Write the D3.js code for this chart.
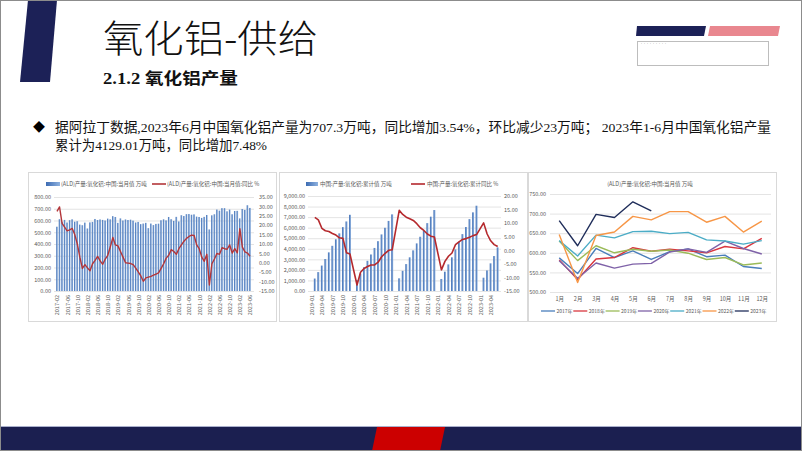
<!DOCTYPE html>
<html><head><meta charset="utf-8">
<script src="https://cdn.jsdelivr.net/npm/d3@7/dist/d3.min.js"></script>
<style>html,body{margin:0;padding:0;background:#fff;}svg{display:block;}</style>
</head><body>
<svg id="slide" width="802" height="451"></svg>
<script>
// ---------------- data ----------------
const monthLabels3 = ["1月","2月","3月","4月","5月","6月","7月","8月","9月","10月","11月","12月"];
const years3 = ["2017年","2018年","2019年","2020年","2021年","2022年","2023年"];
// monthly production (万吨)
const prod2017 = [587,547,611,588,605,583,603,610,590,594,565,560];
const prod2018 = [582,532,584,588,613,604,609,605,600,616,610,637];
const prod2019 = [630,580,618,600,609,604,607,599,583,588,569,574];
const prod2020 = [580,535,574,561,571,573,602,610,601,630,611,597];
const prod2021 = [631,592,645,638,654,655,649,652,633,630,622,631];
const prod2022 = [647,524,644,653,693,684,705,705,678,693,653,681];
const prod2023 = [682,618,698,690,730,707];
// monthly YoY % (chart 1), 2017-02 .. 2023-06
const yoy2017 = [27.4,29.7,21,19,17,17.5,18.3,15,10,3,-3];
const yoy2018 = [-1,-2.7,-4.2,-0.5,1.3,3.4,1,-0.8,2,4,8.5,13.5];
const yoy2019 = [9.5,9,6,3,0,-0.2,-0.4,-1,-2.8,-4.8,-7,-9.8];
const yoy2020 = [-8,-7.6,-7.2,-6.6,-6,-5.4,-3,-0.5,2.5,4,7,6];
const yoy2021 = [4.5,7.5,9.5,11.5,13,14,14.7,14.5,9.5,7.5,3,0.8];
const yoy2022 = [4.5,-11.8,-0.5,2,5,4.5,8,7.5,7.2,9.5,5.2,7.5];
const yoy2023 = [5.3,18.2,8.3,5.8,5.2,3.5];
// cumulative production (万吨), Jan not published
const cum2019 = [null,1180,1790,2410,3030,3660,4280,4900,5460,6050,6590,7220];
const cum2020 = [null,1040,1650,2250,2860,3460,4080,4720,5360,5990,6640,7260];
const cum2021 = [null,1200,1910,2550,3190,3850,4510,5140,5720,6430,7040,7670];
const cum2022 = [null,1140,1830,2520,3190,3940,4670,5390,6060,6810,7450,8080];
const cum2023 = [null,1260,1950,2620,3310,4130];
// cumulative YoY %
const cumYoy2019 = [null,12.1,11.2,8.1,7.2,6.9,6.2,5.6,4.6,4.4,-0.9,-1.4];
const cumYoy2020 = [null,-12.8,-8.1,-6.7,-6,-5.4,-5.4,-4.4,-2.4,-1.1,0,0.2];
const cumYoy2021 = [null,14.7,13.2,12.2,11.6,11,9.8,8.3,7.3,6,5.2,4.9];
const cumYoy2022 = [null,-7.2,-4.1,-2.2,-1,2.1,3.1,4,4.3,4.8,5.4,5.8];
const cumYoy2023 = [null,10.1,6,3.5,2.1,1.4];
// tick values
const leftTicks1 = [0,100,200,300,400,500,600,700,800];
const rightTicks1 = [-15,-10,-5,0,5,10,15,20,25,30,35];
const leftTicks2 = [0,1000,2000,3000,4000,5000,6000,7000,8000,9000];
const rightTicks2 = [-15,-10,-5,0,5,10,15,20];
const ticks3 = [500,550,600,650,700,750];
const colors3 = ["#4a7ebb","#d9363e","#9bbb59","#7f62a8","#4bacc6","#f79646","#1f2d5a"];

// ---------------- setup ----------------
const svg = d3.select("#slide");
const FONT = '"Noto Sans CJK SC","Noto Sans",sans-serif';
const BODY = '"Liberation Serif","Noto Sans CJK SC",serif';
const GRID = "#d9d9d9", TXT = "#595959";
const fmt = v => d3.format(",.2f")(v).replace("−","-");

const defs = svg.append("defs");
const gr = defs.append("linearGradient").attr("id","barGrad").attr("x1","0").attr("x2","1").attr("y1","0").attr("y2","0");
gr.append("stop").attr("offset","0%").attr("stop-color","#3d6cb3");
gr.append("stop").attr("offset","100%").attr("stop-color","#8fb2df");

svg.append("rect").attr("width",802).attr("height",451).attr("fill","#fff");

// ---------------- slide decoration ----------------
svg.append("path").attr("d","M28,0 L57,0 L50,82 L20,82 Z").attr("fill","#1c2157");
svg.append("path").attr("d","M637,26 L706,26 L704,36 L636,36 Z").attr("fill","#1c2157");
svg.append("path").attr("d","M710,26 L780,26 L778,36 L708,36 Z").attr("fill","#e9878f");
svg.append("rect").attr("x",637.5).attr("y",41.5).attr("width",131).attr("height",24).attr("fill","#fff").attr("stroke","#bdbdbd").attr("stroke-width",1);
svg.append("text").attr("x",640).attr("y",44.5).attr("font-size",3).attr("fill","#888").attr("font-family",FONT).text("·········");
svg.append("rect").attr("x",0).attr("y",426).attr("width",802).attr("height",25).attr("fill","#1b1f50");
svg.append("line").attr("x1",0).attr("x2",802).attr("y1",426.5).attr("y2",426.5).attr("stroke","#aab0cc").attr("stroke-width",1);
svg.append("path").attr("d","M377,427 L445,427 L440,451 L372,451 Z").attr("fill","#cc0000");
svg.append("rect").attr("x",0.5).attr("y",0.5).attr("width",801).attr("height",450).attr("fill","none").attr("stroke","#8c8c8c").attr("stroke-width",1);

// titles
svg.append("text").attr("x",103).attr("y",52).attr("font-size",38).attr("font-family",FONT).attr("font-weight",300)
  .attr("fill","#111").attr("textLength",215).attr("lengthAdjust","spacingAndGlyphs").text("氧化铝-供给");
svg.append("text").attr("x",103).attr("y",84).attr("font-size",16).attr("font-family",BODY).attr("font-weight",700)
  .attr("fill","#111").attr("textLength",135).attr("lengthAdjust","spacingAndGlyphs").text("2.1.2 氧化铝产量");
svg.append("text").attr("x",33).attr("y",132).attr("font-size",12).attr("font-family",FONT).attr("fill","#000").text("◆");
svg.append("text").attr("x",55).attr("y",132).attr("font-size",13.5).attr("font-family",BODY).attr("fill","#111")
  .attr("textLength",716).attr("lengthAdjust","spacingAndGlyphs")
  .text("据阿拉丁数据,2023年6月中国氧化铝产量为707.3万吨，同比增加3.54%，环比减少23万吨；  2023年1-6月中国氧化铝产量");
svg.append("text").attr("x",55).attr("y",150).attr("font-size",13.5).attr("font-family",BODY).attr("fill","#111")
  .attr("textLength",212).attr("lengthAdjust","spacingAndGlyphs").text("累计为4129.01万吨，同比增加7.48%");

// helpers
function styleText(sel, size){ sel.attr("font-size",size).attr("fill",TXT).attr("font-family",FONT); }
function panel(x){ svg.append("rect").attr("x",x+0.5).attr("y",172.5).attr("width",248).attr("height",149).attr("fill","#fff").attr("stroke","#d9d9d9").attr("stroke-width",1); }
function grid(g, scale, ticks, x0, x1){
  g.append("g").attr("transform",`translate(${x0},0)`)
   .call(d3.axisLeft(scale).tickValues(ticks).tickSize(-(x1-x0)).tickFormat(""))
   .call(s=>s.select(".domain").remove())
   .selectAll("line").attr("stroke",GRID).attr("stroke-width",0.7);
}
function yLabels(g, scale, ticks, x, right){
  const ax = right ? d3.axisRight(scale) : d3.axisLeft(scale);
  g.append("g").attr("transform",`translate(${x},0)`)
   .call(ax.tickValues(ticks).tickSize(0).tickPadding(0).tickFormat(fmt))
   .call(s=>s.select(".domain").remove())
   .selectAll("text").call(styleText,5.5);
}
function xRotLabels(g, scale, vals, y){
  g.append("g").attr("transform",`translate(0,${y})`)
   .call(d3.axisBottom(scale).tickValues(vals).tickSize(0))
   .call(s=>s.select(".domain").remove())
   .selectAll("text").attr("transform","rotate(-90)").attr("text-anchor","end")
   .attr("x",-3).attr("y",0).attr("dy","0.35em").call(styleText,5.5);
}

// ---------------- chart 1 ----------------
panel(28);
const g1 = svg.append("g");
const months1 = [];
for (let y=2017; y<=2023; y++) for (let m=1; m<=12; m++) {
  if ((y===2017 && m<2) || (y===2023 && m>6)) continue;
  months1.push(y+"-"+String(m).padStart(2,"0"));
}
const bars1 = [].concat(prod2017.slice(1), prod2018, prod2019, prod2020, prod2021, prod2022, prod2023);
const line1 = [].concat(yoy2017, yoy2018, yoy2019, yoy2020, yoy2021, yoy2022, yoy2023);
const x1 = d3.scalePoint().domain(months1).range([57,250]);
const yL1 = d3.scaleLinear().domain([0,800]).range([291,197]);
const yR1 = d3.scaleLinear().domain([-15,35]).range([291,197]);
grid(g1, yL1, leftTicks1, 54, 254);
yLabels(g1, yL1, leftTicks1, 51, false);
yLabels(g1, yR1, rightTicks1, 259, true);
const bw1 = x1.step()*0.62;
g1.append("g").selectAll("rect").data(bars1).join("rect")
  .attr("x",(d,i)=>x1(months1[i])-bw1/2).attr("y",d=>yL1(d))
  .attr("width",bw1).attr("height",d=>yL1(0)-yL1(d)).attr("fill","url(#barGrad)");
g1.append("path").datum(line1)
  .attr("d", d3.line().x((d,i)=>x1(months1[i])).y(d=>yR1(d)))
  .attr("fill","none").attr("stroke","#b3363a").attr("stroke-width",1.4).attr("stroke-linejoin","round");
xRotLabels(g1, x1, months1.filter((d,i)=>i%4===0), 292);
// legend
g1.append("rect").attr("x",46).attr("y",182).attr("width",14).attr("height",4).attr("fill","url(#barGrad)");
g1.append("text").attr("x",61).attr("y",186).call(styleText,5.5).text("(ALD)产量:氧化铝:中国:当月值 万吨");
g1.append("line").attr("x1",152).attr("x2",166).attr("y1",184).attr("y2",184).attr("stroke","#b3363a").attr("stroke-width",1.6);
g1.append("text").attr("x",167).attr("y",186).call(styleText,5.5).text("(ALD)产量:氧化铝:中国:当月值:同比 %");

// ---------------- chart 2 ----------------
panel(279);
const g2 = svg.append("g");
const months2 = [];
for (let y=2019; y<=2023; y++) for (let m=1; m<=12; m++) {
  if (y===2023 && m>6) continue;
  months2.push(y+"-"+String(m).padStart(2,"0"));
}
const bars2 = [].concat(cum2019, cum2020, cum2021, cum2022, cum2023);
const line2 = [].concat(cumYoy2019, cumYoy2020, cumYoy2021, cumYoy2022, cumYoy2023);
const x2 = d3.scalePoint().domain(months2).range([311.3,497.7]);
const yL2 = d3.scaleLinear().domain([0,9000]).range([291,196]);
const yR2 = d3.scaleLinear().domain([-15,20]).range([291,196]);
grid(g2, yL2, leftTicks2, 308, 501);
yLabels(g2, yL2, leftTicks2, 305, false);
yLabels(g2, yR2, rightTicks2, 504, true);
const bw2 = x2.step()*0.55;
const barData2 = bars2.map((v,i)=>({m:months2[i], v})).filter(d=>d.v!=null);
g2.append("g").selectAll("rect").data(barData2).join("rect")
  .attr("x",d=>x2(d.m)-bw2/2).attr("y",d=>yL2(d.v))
  .attr("width",bw2).attr("height",d=>yL2(0)-yL2(d.v)).attr("fill","url(#barGrad)");
const lineData2 = line2.map((v,i)=>({m:months2[i], v})).filter(d=>d.v!=null);
g2.append("path").datum(lineData2)
  .attr("d", d3.line().x(d=>x2(d.m)).y(d=>yR2(d.v)))
  .attr("fill","none").attr("stroke","#b5292d").attr("stroke-width",1.6).attr("stroke-linejoin","round");
xRotLabels(g2, x2, months2.filter((d,i)=>i%3===0), 292);
g2.append("rect").attr("x",306).attr("y",182).attr("width",12).attr("height",4).attr("fill","url(#barGrad)");
g2.append("text").attr("x",320).attr("y",186).call(styleText,5.5).text("中国:产量:氧化铝:累计值 万吨");
g2.append("line").attr("x1",411).attr("x2",425).attr("y1",184).attr("y2",184).attr("stroke","#b5292d").attr("stroke-width",1.6);
g2.append("text").attr("x",427).attr("y",186).call(styleText,5.5).text("中国:产量:氧化铝:累计同比 %");

// ---------------- chart 3 ----------------
panel(528);
const g3 = svg.append("g");
const series3 = [prod2017, prod2018, prod2019, prod2020, prod2021, prod2022, prod2023];
const x3 = d3.scalePoint().domain(monthLabels3).range([550,771]).padding(0.5);
const y3 = d3.scaleLinear().domain([500,750]).range([292,194]);
grid(g3, y3, ticks3, 550, 771);
yLabels(g3, y3, ticks3, 546, false);
g3.append("g").attr("transform","translate(0,297)")
  .call(d3.axisBottom(x3).tickSize(0).tickPadding(0))
  .call(s=>s.select(".domain").remove())
  .selectAll("text").attr("dy","0.71em").call(styleText,5.5);
series3.forEach((s,k)=>{
  g3.append("path").datum(s)
    .attr("d", d3.line().x((d,i)=>x3(monthLabels3[i])).y(d=>y3(d)))
    .attr("fill","none").attr("stroke",colors3[k]).attr("stroke-width",1.4).attr("stroke-linejoin","round");
});
g3.append("text").attr("x",650).attr("y",186).attr("text-anchor","middle").call(styleText,5.5).text("(ALD)产量:氧化铝:中国:当月值 万吨");
years3.forEach((yr,k)=>{
  const lx = 541 + k*32.3;
  g3.append("line").attr("x1",lx).attr("x2",lx+14).attr("y1",311).attr("y2",311).attr("stroke",colors3[k]).attr("stroke-width",1.3);
  g3.append("text").attr("x",lx+15.5).attr("y",313).call(styleText,5).text(yr);
});
</script>
</body></html>
